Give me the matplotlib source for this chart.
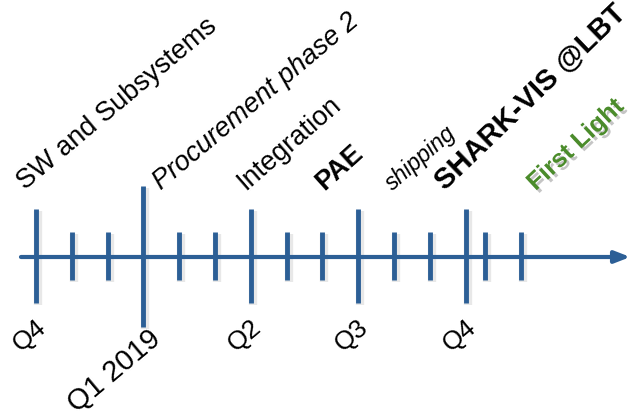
import matplotlib.pyplot as plt
import matplotlib.patheffects as pe

# month offsets from Oct 2018 (Q4)
major_ticks = [0, 6, 9, 12]
major_labels = ["Q4", "Q2", "Q3", "Q4"]
year_tick = 3
year_label = "Q1 2019"
minor_ticks = [1, 2, 4, 5, 7, 8, 10, 11, 12.55, 13.55]

# activities written above the axis
task_labels = ["SW and Subsystems", "Procurement phase 2", "Integration",
               "PAE", "shipping", "SHARK-VIS @LBT", "First Light"]
task_pos = [-0.2, 3.6, 5.95, 8.15, 10.05, 11.55, 14.05]

BLUE = "#2c5f96"
GREEN = "#4b8c2b"

fig = plt.figure(figsize=(6.36, 4.17), dpi=100)
ax = fig.add_axes([0, 0, 1, 1])
px = 35.8  # pixels per month
ax.set_xlim(-36 / px, (636 - 36) / px)
ax.set_ylim(-160, 257)
ax.axis("off")

shadow = [pe.SimpleLineShadow(offset=(1.5, -1.5), shadow_color="0.5", alpha=0.18, linewidth=6),
          pe.Normal()]

# main time axis with arrow head
ax.annotate("", xy=(16.6, 0), xytext=(-0.42, 0),
            arrowprops=dict(arrowstyle="-|>,head_length=0.9,head_width=0.35",
                            color=BLUE, lw=3, shrinkA=0, shrinkB=0))

for m in minor_ticks:
    ax.plot([m, m], [-23, 25], color=BLUE, lw=3.5, solid_capstyle="butt", path_effects=shadow)
for m in major_ticks:
    ax.plot([m, m], [-46, 48], color=BLUE, lw=3.5, solid_capstyle="butt", path_effects=shadow)
ax.plot([year_tick, year_tick], [-70, 71], color=BLUE, lw=3.5, solid_capstyle="butt", path_effects=shadow)

lab_kw = dict(rotation=40, rotation_mode="anchor", ha="right", va="top",
              family="Liberation Sans")
for m, t in zip(major_ticks, major_labels):
    ax.text(m - 0.02, -58, t, fontsize=19, **lab_kw)
ax.text(year_tick + 0.12, -68, year_label, fontsize=21, **lab_kw)

styles = [
    dict(fontsize=19.5, rotation=40),
    dict(fontsize=19.5, rotation=40, style="italic"),
    dict(fontsize=19.5, rotation=41),
    dict(fontsize=19.5, rotation=42, weight="bold"),
    dict(fontsize=16.5, rotation=41, style="italic"),
    dict(fontsize=21, rotation=44, weight="bold"),
    dict(fontsize=18, rotation=43, weight="bold", color=GREEN,
         path_effects=[pe.withSimplePatchShadow(offset=(2, -2), shadow_rgbFace="0.5", alpha=0.45)]),
]
for m, t, st in zip(task_pos, task_labels, styles):
    ax.text(m, 62, t, rotation_mode="anchor", ha="left", va="bottom",
            family="Liberation Sans", **st)

fig.savefig("out.png", dpi=100)
